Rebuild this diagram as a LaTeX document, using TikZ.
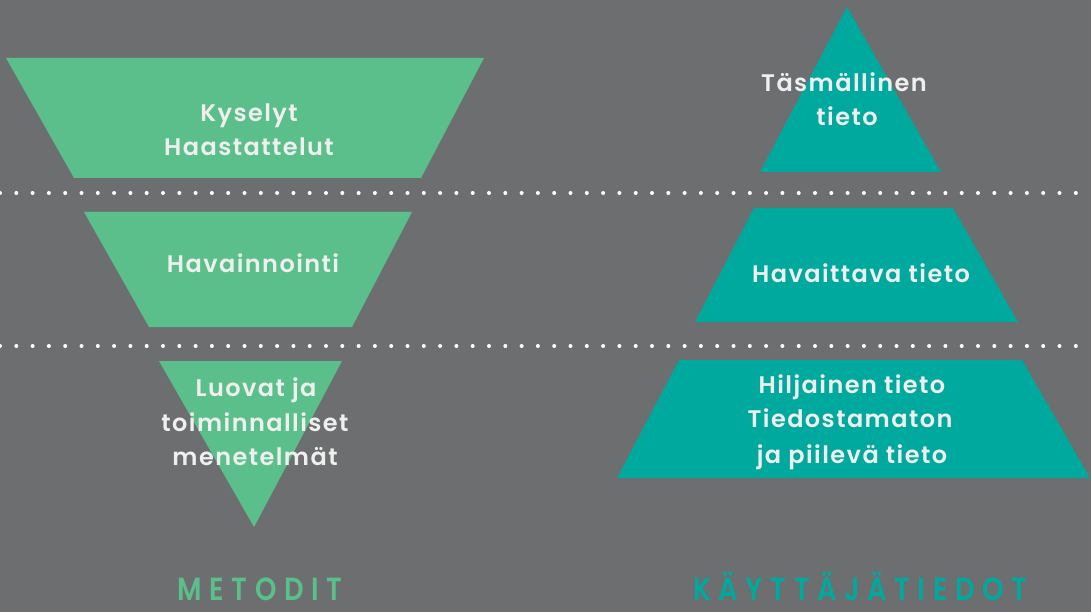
\documentclass[tikz,border=0pt]{standalone}
\usepackage{fontspec}
\setmainfont{Poppins}
\newfontfamily\bodyfont[LetterSpace=6]{Poppins SemiBold}
\newfontfamily\titlefont[LetterSpace=28]{Poppins SemiBold}
\definecolor{bg}{HTML}{6D6E70}
\definecolor{grn}{HTML}{5ABF8B}
\definecolor{teal}{HTML}{00A99D}
\definecolor{txt}{HTML}{EFEFEF}
\tikzset{
  lbl/.style={text=txt, anchor=base, inner sep=0pt, font=\bodyfont\fontsize{24}{30}\selectfont},
  ttl/.style={anchor=base, inner sep=0pt},
  dots/.style={draw=white, line width=4pt, line cap=round, dash pattern=on 0pt off 16.3pt},
}
\begin{document}
\begin{tikzpicture}[x=1pt,y=-1pt]
\useasboundingbox (0,0) rectangle (1091,612);
\fill[bg] (0,0) rectangle (1091,612);
% dotted separators
\coordinate (d1a) at (0,193); \coordinate (d1b) at (1091,193);
\coordinate (d2a) at (0,346); \coordinate (d2b) at (1091,346);
\draw[dots] (d1a) -- (d1b);
\draw[dots] (d2a) -- (d2b);
% left column (green, inverted)
\fill[grn] (6,58) -- (484,58) -- (421,178) -- (74,178) -- cycle;
\fill[grn] (84,212) -- (412,212) -- (352,327) -- (149,327) -- cycle;
\fill[grn] (159,361) -- (342,361) -- (254,527) -- cycle;
% right column (teal, pyramid)
\fill[teal] (847,7) -- (941,172) -- (760,172) -- cycle;
\fill[teal] (754,208) -- (953,208) -- (1018,322) -- (695,322) -- cycle;
\fill[teal] (679,360) -- (1022,360) -- (1090,478) -- (617,478) -- cycle;
% texts left
\node[lbl] (k1) at (249,122) {Kyselyt};
\node[lbl] (k2) at (249,156) {Haastattelut};
\node[lbl] (h1) at (253,272) {Havainnointi};
\node[lbl] (l1) at (256,396) {Luovat ja};
\node[lbl] (l2) at (255,431) {toiminnalliset};
\node[lbl] (l3) at (255,465) {menetelmät};
% texts right
\node[lbl] (t1) at (844,92) {Täsmällinen};
\node[lbl] (t2) at (847,126) {tieto};
\node[lbl] (v1) at (861,282) {Havaittava tieto};
\node[lbl] (s1) at (852,393) {Hiljainen tieto};
\node[lbl] (s2) at (850,427) {Tiedostamaton};
\node[lbl] (s3) at (852,463) {ja piilevä tieto};
% titles
\node[ttl, text=grn] (m) at (260,600) {\scalebox{0.85}[1]{\titlefont\fontsize{32}{36}\selectfont METODIT}};
\node[ttl, text=teal] (kt) at (860,600) {\scalebox{0.85}[1]{\titlefont\fontsize{32}{36}\selectfont KÄYTTÄJÄTIEDOT}};
\end{tikzpicture}
\end{document}
